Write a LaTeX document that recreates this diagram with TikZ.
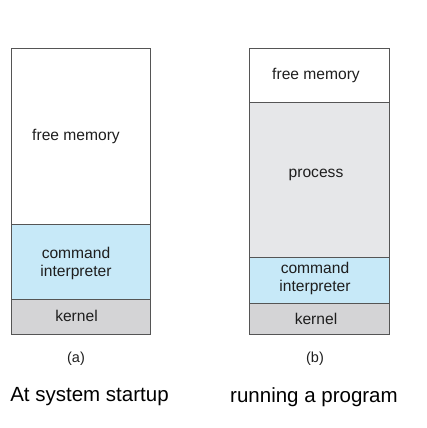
\documentclass[tikz,border=0pt]{standalone}
\usepackage{fontspec}
\setmainfont{Liberation Sans}
\definecolor{cmdblue}{RGB}{199,233,248}
\definecolor{kerngray}{RGB}{212,212,214}
\definecolor{procgray}{RGB}{230,231,233}
\definecolor{edge}{RGB}{85,85,85}
\definecolor{ink}{RGB}{30,30,30}
\tikzset{
  outline/.style={draw=edge, line width=1pt},
  boxtext/.style={font=\fontsize{15.6}{18}\selectfont, text=ink, align=center, inner sep=0pt},
  subcap/.style={font=\fontsize{14.5}{17}\selectfont, text=ink, inner sep=0pt},
  caption/.style={font=\fontsize{20.5}{24}\selectfont, text=black, inner sep=0pt}
}
\begin{document}
\begin{tikzpicture}[x=1pt,y=-1pt]
\useasboundingbox (0,0) rectangle (426,428);
% left column (a)
\fill[white] (11.3,48.3) rectangle (150.7,224.3);
\fill[cmdblue] (11.3,224.3) rectangle (150.7,299.3);
\fill[kerngray] (11.3,299.3) rectangle (150.7,334.3);
\draw[outline] (11.3,48.3) rectangle (150.7,334.3);
\draw[outline] (11.3,224.3) -- (150.7,224.3);
\draw[outline] (11.3,299.3) -- (150.7,299.3);
\node[boxtext] (afreet) at (76,136.5) {free memory};
\node[boxtext] (acmdt) at (76,263) {command\\interpreter};
\node[boxtext] (akernt) at (76.5,315.5) {kernel};
% right column (b)
\fill[white] (249.3,48.3) rectangle (389.3,102.3);
\fill[procgray] (249.3,102.3) rectangle (389.3,257.3);
\fill[cmdblue] (249.3,257.3) rectangle (389.3,303.3);
\fill[kerngray] (249.3,303.3) rectangle (389.3,334.3);
\draw[outline] (249.3,48.3) rectangle (389.3,334.3);
\draw[outline] (249.3,102.3) -- (389.3,102.3);
\draw[outline] (249.3,257.3) -- (389.3,257.3);
\draw[outline] (249.3,303.3) -- (389.3,303.3);
\node[boxtext] (bfreet) at (316,75) {free memory};
\node[boxtext] (bproct) at (316,175) {process};
\node[boxtext] (bcmdt) at (315,278) {command\\interpreter};
\node[boxtext] (bkernt) at (316,318.5) {kernel};
% captions
\node[subcap] (alab) at (76,359) {(a)};
\node[subcap] (blab) at (315,359) {(b)};
\node[caption] (acap) at (89.5,397) {At system startup};
\node[caption] (bcap) at (314,397) {running a program};
\end{tikzpicture}
\end{document}
